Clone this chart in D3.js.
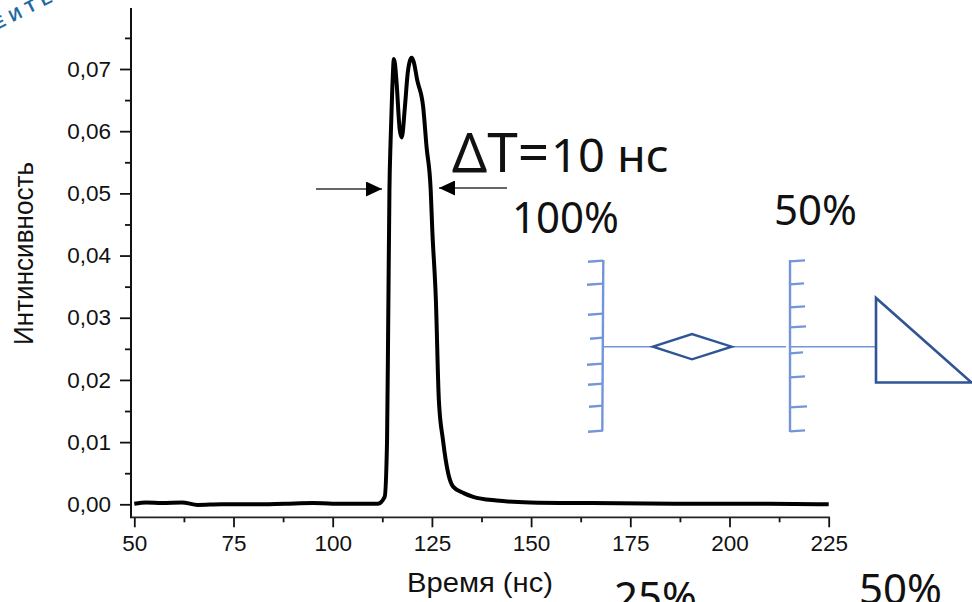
<!DOCTYPE html>
<html>
<head>
<meta charset="utf-8">
<script src="https://cdn.jsdelivr.net/npm/d3@7"></script>
<style>
html, body { margin: 0; padding: 0; background: #fff; overflow: hidden; }
svg { display: block; }
.axis text { font-family: "Liberation Sans", Arial, sans-serif; font-size: 22.5px; fill: #111; }
.axis path, .axis line { stroke: #111; stroke-width: 1.8px; }
.big { font-family: "Noto Sans", "Open Sans", sans-serif; fill: #111; }
.title { font-family: "Liberation Sans", Arial, sans-serif; font-size: 27px; fill: #111; }
</style>
</head>
<body>
<div id="chart"></div>
<script>
// values
var timeNs = [50, 53, 57, 62, 66, 72, 80, 88, 95, 100, 106, 110, 111.4, 113.1, 113.7, 114, 114.3, 114.6, 115, 115.2, 115.4, 115.7, 116.1, 116.9, 117.4, 118.2, 118.9, 119.4, 119.9, 120.4, 121.3, 122.8, 123.65, 124.7, 125.1, 126, 126.75, 127.8, 129.1, 130.4, 133, 135.4, 141.3, 149.7, 165, 190, 210, 225];
var intensity = [0.0001, 0.0003, 0.0002, 0.0003, -0.0001, 0, 0, 0.0001, 0.0002, 0.0001, 0.0001, 0.0001, 0.0001, 0.0012, 0.0103, 0.03, 0.0505, 0.0586, 0.0666, 0.0697, 0.0716, 0.0708, 0.0678, 0.0602, 0.059, 0.0639, 0.0693, 0.0712, 0.0718, 0.0712, 0.0682, 0.0639, 0.0575, 0.0505, 0.0441, 0.0329, 0.0168, 0.0103, 0.005, 0.0028, 0.0018, 0.0012, 0.0006, 0.0003, 0.0002, 0.0001, 0.0001, 0];

var xTicks = [50, 75, 100, 125, 150, 175, 200, 225];
var xMinor = [62.5, 87.5, 112.5, 137.5, 162.5, 187.5, 212.5];
var yTicks = [0, 0.01, 0.02, 0.03, 0.04, 0.05, 0.06, 0.07];
var yMinor = [0.005, 0.015, 0.025, 0.035, 0.045, 0.055, 0.065, 0.075];

// the laser scheme pasted on top of the plot
var leftHatch = [261, 284, 314, 338, 364, 384, 406, 431];
var leftHatchEnd = [588, 587, 588, 590, 587, 588, 589, 588];
var rightHatch = [261, 284, 307, 327, 353, 377, 407, 431];
var rightHatchEnd = [805, 804, 805, 806, 803, 805, 807, 805];

var svgWidth = 972;
var svgHeight = 602;

var svg = d3.select("#chart")
    .append("svg")
    .attr("width", svgWidth)
    .attr("height", svgHeight);

var xScale = d3.scaleLinear().domain([50, 225]).range([134.3, 828.7]);
var yScale = d3.scaleLinear().domain([0, 0.07]).range([504.3, 69]);

var ruCommaFormat = d3.formatLocale({ decimal: ",", thousands: " ", grouping: [3], currency: ["", ""] }).format(".2f");

// axes: main ticks with labels and a second pass for the minor ones
var axisX = 131;
var axisY = 517.3;

var bottomAxis = d3.axisBottom(xScale).tickValues(xTicks).tickSize(10).tickPadding(8).tickFormat(d3.format("d"));
var leftAxis = d3.axisLeft(yScale).tickValues(yTicks).tickSize(11).tickPadding(9).tickFormat(ruCommaFormat);

svg.append("g").attr("class", "axis")
    .attr("transform", "translate(0," + axisY + ")")
    .call(bottomAxis)
    .call(g => g.select(".domain").remove());
svg.append("g").attr("class", "axis")
    .attr("transform", "translate(0," + axisY + ")")
    .call(d3.axisBottom(xScale).tickValues(xMinor).tickSize(5).tickFormat(""))
    .call(g => g.select(".domain").remove());

svg.append("g").attr("class", "axis")
    .attr("transform", "translate(" + axisX + ",0)")
    .call(leftAxis)
    .call(g => g.select(".domain").remove());
svg.append("g").attr("class", "axis")
    .attr("transform", "translate(" + axisX + ",0)")
    .call(d3.axisLeft(yScale).tickValues(yMinor).tickSize(6).tickFormat(""))
    .call(g => g.select(".domain").remove());

svg.append("line").attr("x1", axisX).attr("x2", axisX).attr("y1", 8).attr("y2", axisY + 1)
    .attr("stroke", "#111").attr("stroke-width", 2);
svg.append("line").attr("x1", axisX).attr("x2", 830).attr("y1", axisY).attr("y2", axisY)
    .attr("stroke", "#222").attr("stroke-width", 1.7);

// axis titles, the pasted picture is a bit stretched so lengths are fixed
svg.append("text")
    .attr("class", "title")
    .attr("transform", "translate(33,253.5) rotate(-90)")
    .attr("text-anchor", "middle")
    .attr("textLength", 183)
    .attr("lengthAdjust", "spacingAndGlyphs")
    .text("Интинсивность");

svg.append("text")
    .attr("class", "title")
    .attr("x", 480)
    .attr("y", 591.5)
    .attr("text-anchor", "middle")
    .attr("textLength", 146)
    .attr("lengthAdjust", "spacingAndGlyphs")
    .text("Время (нс)");

// pulse
var pulseLine = d3.line()
    .x((d, i) => xScale(timeNs[i]))
    .y((d, i) => yScale(intensity[i]))
    .curve(d3.curveMonotoneX);

svg.append("path")
    .attr("d", pulseLine(timeNs))
    .attr("fill", "none")
    .attr("stroke", "#000")
    .attr("stroke-width", 4)
    .attr("stroke-linejoin", "round");

// width arrows
var defs = svg.append("defs");
defs.append("marker")
    .attr("id", "head")
    .attr("markerUnits", "userSpaceOnUse")
    .attr("viewBox", "0 0 16 15")
    .attr("markerWidth", 16)
    .attr("markerHeight", 15)
    .attr("refX", 16)
    .attr("refY", 7.5)
    .attr("orient", "auto")
    .append("path")
    .attr("d", "M0,0L16,7.5L0,15Z")
    .attr("fill", "#000");

svg.append("line").attr("x1", 316).attr("y1", 189).attr("x2", 382).attr("y2", 189)
    .attr("stroke", "#333").attr("stroke-width", 1.3).attr("marker-end", "url(#head)");
svg.append("line").attr("x1", 507).attr("y1", 188).attr("x2", 439).attr("y2", 188)
    .attr("stroke", "#333").attr("stroke-width", 1.3).attr("marker-end", "url(#head)");

// big labels
svg.append("text").attr("class", "big").attr("x", 452).attr("y", 172).style("font-size", "55px").text("ΔT=");
svg.append("text").attr("class", "big").attr("x", 551).attr("y", 172).style("font-size", "46px")
    .attr("textLength", 118).attr("lengthAdjust", "spacingAndGlyphs").text("10 нс");
svg.append("text").attr("class", "big").attr("x", 512).attr("y", 233).style("font-size", "43px")
    .attr("textLength", 107).attr("lengthAdjust", "spacingAndGlyphs").text("100%");
svg.append("text").attr("class", "big").attr("x", 774).attr("y", 225).style("font-size", "42px").text("50%");
svg.append("text").attr("class", "big").attr("x", 614).attr("y", 612).style("font-size", "42px").text("25%");
svg.append("text").attr("class", "big").attr("x", 859).attr("y", 604).style("font-size", "42px").text("50%");

// scheme
var beamColor = "#7396d8";
var darkBlue = "#2f5597";

var beam = svg.append("g").attr("stroke", beamColor).attr("stroke-width", 1.6);
beam.append("line").attr("x1", 604).attr("x2", 653).attr("y1", 346.7).attr("y2", 346.7);
beam.append("line").attr("x1", 732).attr("x2", 786).attr("y1", 346.7).attr("y2", 346.7);
beam.append("line").attr("x1", 791).attr("x2", 876).attr("y1", 346.7).attr("y2", 346.7);

var mirrors = svg.append("g").attr("stroke", beamColor).attr("stroke-width", 2.4).attr("fill", "none");
mirrors.append("line").attr("x1", 603.3).attr("y1", 260).attr("x2", 602.3).attr("y2", 431);
mirrors.append("line").attr("x1", 790).attr("y1", 260).attr("x2", 790).attr("y2", 432);
mirrors.selectAll(".lh").data(leftHatch).enter().append("line")
    .attr("x1", (d, i) => leftHatchEnd[i]).attr("y1", d => d + 0.8)
    .attr("x2", 603).attr("y2", d => d - 0.4);
mirrors.selectAll(".rh").data(rightHatch).enter().append("line")
    .attr("x1", 790).attr("y1", d => d + 0.4)
    .attr("x2", (d, i) => rightHatchEnd[i]).attr("y2", d => d - 0.6);

svg.append("path")
    .attr("d", "M653,346.7L692,334L731.7,346.7L692,359.3Z")
    .attr("fill", "#fff").attr("stroke", darkBlue).attr("stroke-width", 2.4);
svg.append("path")
    .attr("d", "M876,298L876,382.5L971.5,382.5Z")
    .attr("fill", "none").attr("stroke", darkBlue).attr("stroke-width", 2.6);

// piece of stamp in the corner
svg.append("text")
    .attr("transform", "translate(-3,30) rotate(-27)")
    .style("font-family", "Liberation Sans, Arial, sans-serif")
    .style("font-size", "17px")
    .style("font-weight", "bold")
    .style("letter-spacing", "6px")
    .attr("fill", "#1f6a9f")
    .text("ЕИТЕ");
</script>
</body>
</html>
